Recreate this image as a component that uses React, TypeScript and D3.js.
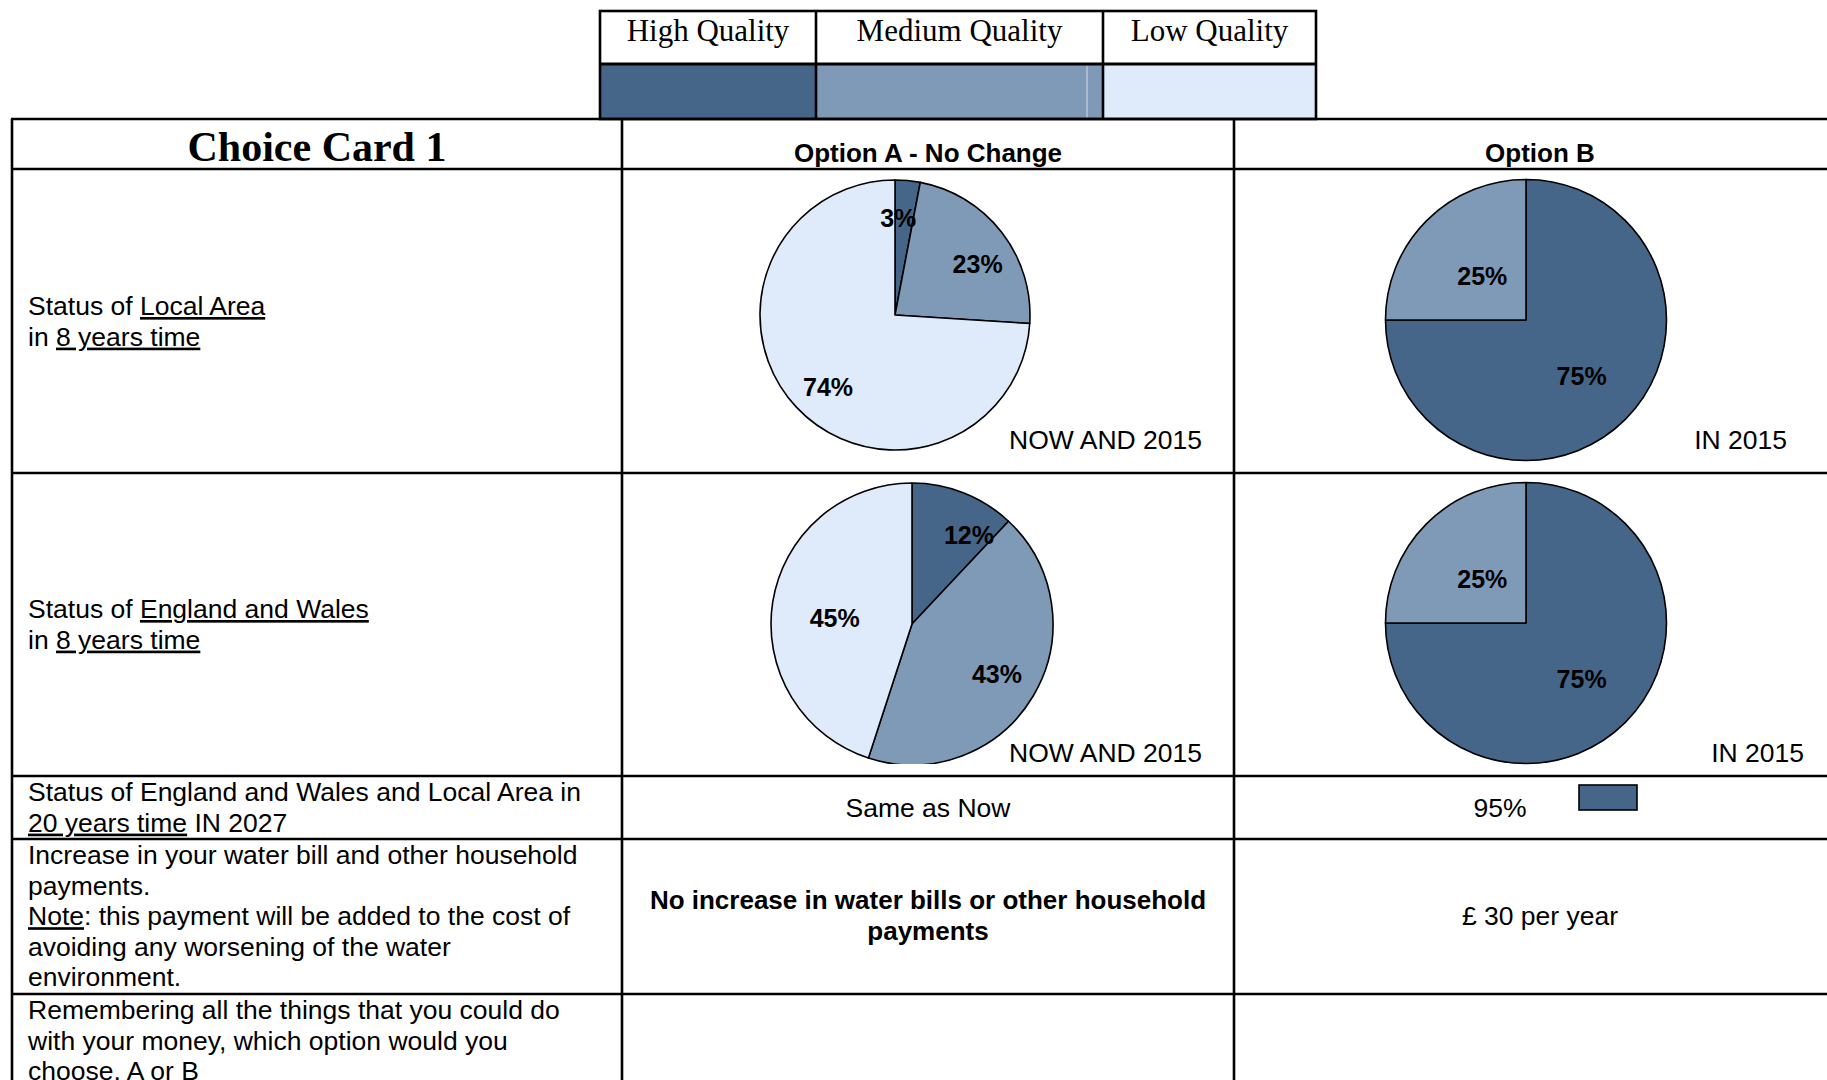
import React from "react";
import * as d3 from "d3";

// ---------- data ----------
const qualityLevels = ["High Quality", "Medium Quality", "Low Quality"];
const qualityColors = ["#456589", "#7f9ab6", "#dfebfb"];

const localNow = [3, 23, 74];
const localOptionB = [75, 25, 0];
const nationalNow = [12, 43, 45];
const nationalOptionB = [75, 25, 0];

const optionHeaders = ["Option A - No Change", "Option B"];
const cardTitle = "Choice Card 1";
const captionNow = "NOW AND 2015";
const captionB = "IN 2015";
const longTermA = "Same as Now";
const longTermB = "95%";
const paymentA = ["No increase in water bills or other household", "payments"];
const paymentB = "£ 30 per year";

type Seg = { t: string; u?: boolean };
const rowLabels: Seg[][][] = [
  [
    [{ t: "Status of " }, { t: "Local Area", u: true }],
    [{ t: "in " }, { t: "8 years time", u: true }],
  ],
  [
    [{ t: "Status of " }, { t: "England and Wales", u: true }],
    [{ t: "in " }, { t: "8 years time", u: true }],
  ],
  [
    [{ t: "Status of England and Wales and Local Area in" }],
    [{ t: "20 years time", u: true }, { t: " IN 2027" }],
  ],
  [
    [{ t: "Increase in your water bill and other household" }],
    [{ t: "payments." }],
    [{ t: "Note", u: true }, { t: ": this payment will be added to the cost of" }],
    [{ t: "avoiding any worsening of the water" }],
    [{ t: "environment." }],
  ],
  [
    [{ t: "Remembering all the things that you could do" }],
    [{ t: "with your money, which option would you" }],
    [{ t: "choose, A or B" }],
  ],
];

// ---------- layout ----------
const W = 1827;
const H = 1080;
const SANS = "'Liberation Sans', Arial, sans-serif";
const SERIF = "'Liberation Serif', 'Times New Roman', serif";

const legendX = [600, 816, 1103, 1316];
const legendY = [11, 64, 119];

const colX = [12, 622, 1234, 1846];
const rowY = [119, 169, 473, 776, 839, 994, 1140];

const labelFirstBaseline = [315, 618, 801, 864, 1019];
const lineGap = 30.6;

// lf: label radius factor, la: label angle shift (degrees) per slice
const pies = [
  { values: localNow, cx: 895, cy: 315, r: 135, lf: [0.72, 0.72, 0.73], la: [-3.5, 6, -4], cap: captionNow, capX: 1202, capY: 449, clipBottom: 2000 },
  { values: localOptionB, cx: 1526, cy: 320, r: 140.5, lf: [0.56, 0.44, 0.5], la: [0, 0, 0], cap: captionB, capX: 1787, capY: 449, clipBottom: 2000 },
  { values: nationalNow, cx: 912, cy: 624, r: 141, lf: [0.75, 0.7, 0.55], la: [11, 0, -4.5], cap: captionNow, capX: 1202, capY: 762, clipBottom: 764 },
  { values: nationalOptionB, cx: 1526, cy: 623, r: 140.5, lf: [0.56, 0.44, 0.5], la: [0, 0, 0], cap: captionB, capX: 1804, capY: 762, clipBottom: 2000 },
];

function Pie({ spec, idx }: { spec: (typeof pies)[number]; idx: number }) {
  const pieGen = d3.pie<number>().sort(null).value((d) => d);
  const arcs = pieGen(spec.values);
  const arcGen = d3.arc<d3.PieArcDatum<number>>().innerRadius(0).outerRadius(spec.r);
  const clipId = `pieclip${idx}`;
  const pad = 10;
  return (
    <g>
      <defs>
        <clipPath id={clipId}>
          <rect x={-spec.r - pad} y={-spec.r - pad} width={spec.r * 2 + pad * 2} height={spec.clipBottom - spec.cy + spec.r + pad} />
        </clipPath>
      </defs>
      <g transform={`translate(${spec.cx},${spec.cy})`}>
        <g clipPath={`url(#${clipId})`}>
          {arcs.map((a, i) =>
            a.value > 0 ? (
              <path key={i} d={arcGen(a) || ""} fill={qualityColors[i]} stroke="#000" strokeWidth={1.6} strokeLinejoin="round" />
            ) : null
          )}
        </g>
        {arcs.map((a, i) => {
          if (a.value <= 0) return null;
          const lr = spec.r * spec.lf[i];
          const shift = (spec.la[i] * Math.PI) / 180;
          const shifted = { ...a, startAngle: a.startAngle + shift, endAngle: a.endAngle + shift };
          const [x, y] = d3.arc<d3.PieArcDatum<number>>().innerRadius(lr).outerRadius(lr).centroid(shifted);
          return (
            <text key={"l" + i} x={x} y={y} textAnchor="middle" dominantBaseline="central" fontFamily={SANS} fontWeight="bold" fontSize={25} fill="#000">
              {`${a.value}%`}
            </text>
          );
        })}
      </g>
      <text x={spec.capX} y={spec.capY} textAnchor="end" fontFamily={SANS} fontSize={26.5} fill="#000">
        {spec.cap}
      </text>
    </g>
  );
}

export default function App() {
  const lw = 2.6;
  return (
    <svg width={W} height={H} style={{ position: "absolute", left: 0, top: 0, background: "#fff" }}>
      <rect x={0} y={0} width={W} height={H} fill="#fff" />

      {/* Legend */}
      {qualityLevels.map((q, i) => (
        <g key={q}>
          <rect x={legendX[i]} y={legendY[1]} width={legendX[i + 1] - legendX[i]} height={legendY[2] - legendY[1]} fill={qualityColors[i]} />
          <text x={(legendX[i] + legendX[i + 1]) / 2} y={41} textAnchor="middle" fontFamily={SERIF} fontSize={31} fill="#000">
            {q}
          </text>
        </g>
      ))}
      <line x1={1087} x2={1087} y1={legendY[1] + 2} y2={legendY[2]} stroke="#c5d3e3" strokeWidth={1.2} />
      <rect x={legendX[0]} y={legendY[0]} width={legendX[3] - legendX[0]} height={legendY[2] - legendY[0]} fill="none" stroke="#000" strokeWidth={lw} />
      <line x1={legendX[0]} x2={legendX[3]} y1={legendY[1]} y2={legendY[1]} stroke="#000" strokeWidth={3} />
      {legendX.slice(1, 3).map((x) => (
        <line key={x} x1={x} x2={x} y1={legendY[0]} y2={legendY[2]} stroke="#000" strokeWidth={lw} />
      ))}

      {/* Header row */}
      <text x={(colX[0] + colX[1]) / 2} y={161} textAnchor="middle" fontFamily={SERIF} fontWeight="bold" fontSize={42} fill="#000">
        {cardTitle}
      </text>
      {optionHeaders.map((h, i) => (
        <text key={h} x={(colX[i + 1] + colX[i + 2]) / 2} y={162} textAnchor="middle" fontFamily={SANS} fontWeight="bold" fontSize={26} fill="#000">
          {h}
        </text>
      ))}

      {/* Pies */}
      {pies.map((p, i) => (
        <Pie key={i} spec={p} idx={i} />
      ))}

      {/* Row labels */}
      {rowLabels.map((lines, ri) =>
        lines.map((segs, li) => (
          <text key={`${ri}-${li}`} x={28} y={labelFirstBaseline[ri] + li * lineGap} fontFamily={SANS} fontSize={26.5} fill="#000">
            {segs.map((s, si) => (
              <tspan key={si} style={s.u ? { textDecoration: "underline" } : undefined}>
                {s.t}
              </tspan>
            ))}
          </text>
        ))
      )}

      {/* Row 3 */}
      <text x={(colX[1] + colX[2]) / 2} y={817} textAnchor="middle" fontFamily={SANS} fontSize={26.5} fill="#000">
        {longTermA}
      </text>
      <text x={1500} y={817} textAnchor="middle" fontFamily={SANS} fontSize={26.5} fill="#000">
        {longTermB}
      </text>
      <rect x={1579} y={785} width={58} height={25} fill={qualityColors[0]} stroke="#000" strokeWidth={1.6} />

      {/* Row 4 */}
      {paymentA.map((t, i) => (
        <text key={t} x={(colX[1] + colX[2]) / 2} y={909 + i * lineGap} textAnchor="middle" fontFamily={SANS} fontWeight="bold" fontSize={26} fill="#000">
          {t}
        </text>
      ))}
      <text x={(colX[2] + colX[3]) / 2} y={925} textAnchor="middle" fontFamily={SANS} fontSize={26.5} fill="#000">
        {paymentB}
      </text>

      {/* Table grid */}
      {rowY.slice(0, 6).map((y) => (
        <line key={"h" + y} x1={colX[0] - 1} x2={colX[3]} y1={y} y2={y} stroke="#000" strokeWidth={lw} />
      ))}
      {colX.map((x) => (
        <line key={"v" + x} x1={x} x2={x} y1={rowY[0]} y2={rowY[6]} stroke="#000" strokeWidth={lw} />
      ))}
    </svg>
  );
}
